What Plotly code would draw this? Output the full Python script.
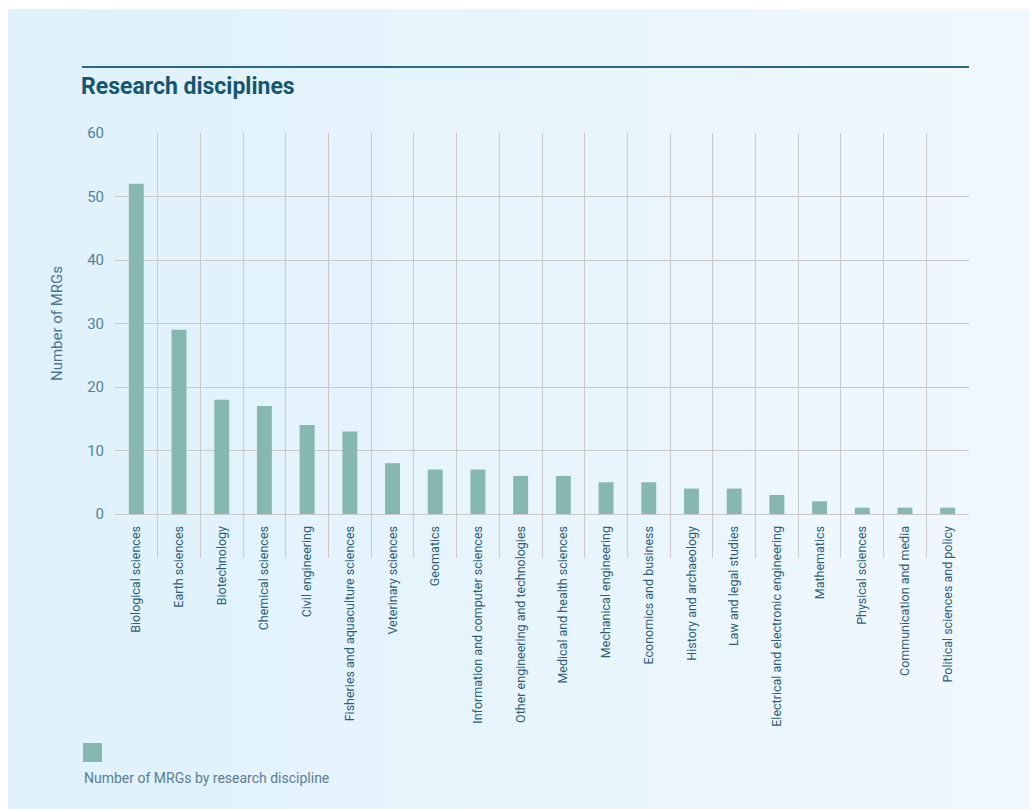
import plotly.graph_objects as go

categories = [
    "Biological sciences", "Earth sciences", "Biotechnology", "Chemical sciences",
    "Civil engineering", "Fisheries and aquaculture sciences", "Veterinary sciences",
    "Geomatics", "Information and computer sciences", "Other engineering and technologies",
    "Medical and health sciences", "Mechanical engineering", "Economics and business",
    "History and archaeology", "Law and legal studies", "Electrical and electronic engineering",
    "Mathematics", "Physical sciences", "Communication and media", "Political sciences and policy",
]
values = [52, 29, 18, 17, 14, 13, 8, 7, 7, 6, 6, 5, 5, 4, 4, 3, 2, 1, 1, 1]
y_ticks = [0, 10, 20, 30, 40, 50, 60]

BAR = "#87b8b0"
GRID = "#c9c9c9"
TEXT = "#3d6a82"
TITLE = "#16566f"
FONT = "Roboto"

W, H = 1030, 809
ML, MR, MT, MB = 115, 61, 133, 295

fig = go.Figure()
fig.add_trace(go.Bar(
    x=categories, y=values, marker=dict(color=BAR, line=dict(width=0)),
    width=0.35, name="Number of MRGs by research discipline", showlegend=False,
))


def px_x(px):
    return (px - ML) / (W - ML - MR)


def px_y(py):
    return (H - py - MB) / (H - MT - MB)


# background gradient strips
shapes = []
n = 40
c0 = (223, 241, 251)
c1 = (240, 248, 253)
for i in range(n):
    t = i / (n - 1)
    c = tuple(round(c0[k] + (c1[k] - c0[k]) * t) for k in range(3))
    xa = 8 + (W - 8) * i / n
    xb = 8 + (W - 8) * (i + 1) / n + 1
    shapes.append(dict(type="rect", xref="paper", yref="paper", layer="below",
                       x0=px_x(xa), x1=px_x(xb), y0=px_y(H), y1=px_y(9),
                       fillcolor="rgb(%d,%d,%d)" % c, line=dict(width=0)))

# title rule
shapes.append(dict(type="line", xref="paper", yref="paper",
                   x0=px_x(82), x1=px_x(969), y0=px_y(67), y1=px_y(67),
                   line=dict(color="#2c6882", width=2)))
# legend swatch
shapes.append(dict(type="rect", xref="paper", yref="paper",
                   x0=px_x(83), x1=px_x(102), y0=px_y(762), y1=px_y(743),
                   fillcolor=BAR, line=dict(width=0)))

fig.update_layout(
    width=W, height=H,
    margin=dict(l=ML, r=MR, t=MT, b=MB),
    paper_bgcolor="white", plot_bgcolor="white",
    font=dict(family=FONT, color=TEXT),
    shapes=shapes,
    annotations=[
        dict(text="<b>Research disciplines</b>", xref="paper", yref="paper",
             x=px_x(79), y=px_y(86), xanchor="left", yanchor="middle", showarrow=False,
             font=dict(family=FONT, size=23, color=TITLE)),
        dict(text="Number of MRGs by research discipline", xref="paper", yref="paper",
             x=px_x(82), y=px_y(778), xanchor="left", yanchor="middle", showarrow=False,
             font=dict(family=FONT, size=14, color="#5b7d92")),
    ],
)

fig.update_xaxes(
    type="category", range=[-0.499, len(categories) - 0.501],
    tickson="boundaries", showgrid=True, gridcolor=GRID, gridwidth=1,
    ticks="outside", ticklen=43, tickcolor=GRID, tickwidth=1,
    ticklabelstandoff=6,
    tickangle=-90, tickfont=dict(family=FONT, size=12.5, color="#2f5f78"),
    showline=True, linecolor=GRID, linewidth=1, zeroline=False,
)
fig.update_yaxes(
    range=[0, 60], tickvals=y_ticks, showgrid=True, gridcolor=GRID, gridwidth=1,
    zeroline=False, showline=False, ticks="", ticklabelstandoff=10,
    tickfont=dict(family=FONT, size=15, color="#56809a"),
    title=dict(text="Number of MRGs", font=dict(family=FONT, size=15, color="#4a7590"), standoff=20),
)

fig.write_html("out.html")
